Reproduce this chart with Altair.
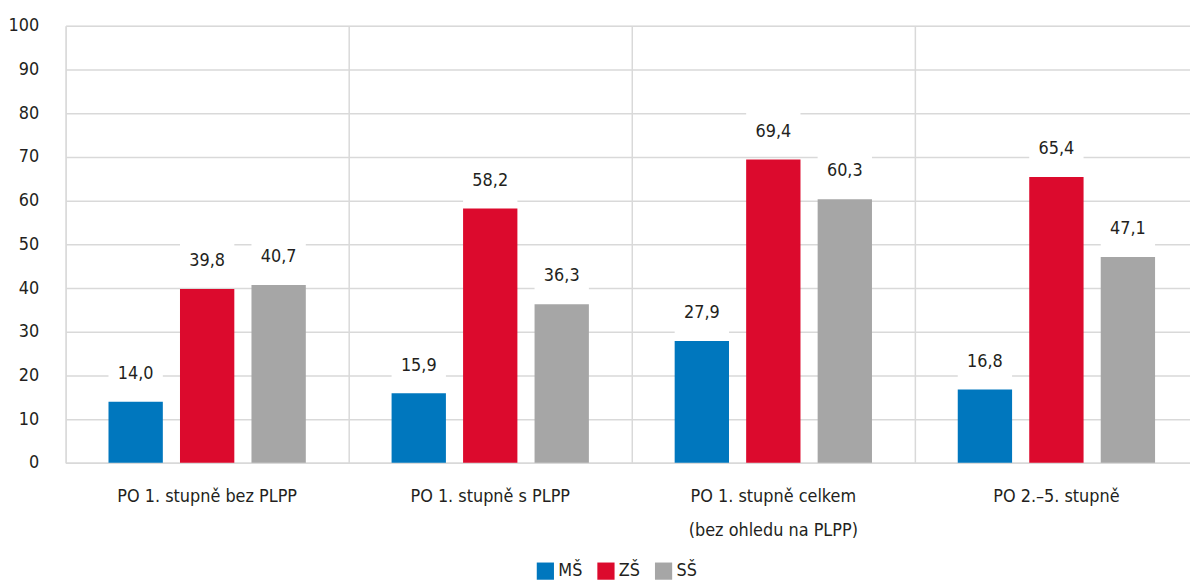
import altair as alt
import pandas as pd

categories = ["PO 1. stupně bez PLPP", "PO 1. stupně s PLPP",
              "PO 1. stupně celkem|(bez ohledu na PLPP)", "PO 2.–5. stupně"]
series = ["MŠ", "ZŠ", "SŠ"]
ms_values = [14.0, 15.9, 27.9, 16.8]
zs_values = [39.8, 58.2, 69.4, 65.4]
ss_values = [40.7, 36.3, 60.3, 47.1]
colors = ["#0077be", "#dc0a2d", "#a6a6a6"]
y_ticks = [0, 10, 20, 30, 40, 50, 60, 70, 80, 90, 100]

rows = []
for s, vals in zip(series, [ms_values, zs_values, ss_values]):
    for c, v in zip(categories, vals):
        rows.append({"kat": c, "typ": s, "hodnota": v,
                     "label": f"{v:.1f}".replace(".", ",")})
df = pd.DataFrame(rows)

FONT = "Liberation Sans Narrow, Arial Narrow, DejaVu Sans Condensed, sans-serif"
TXT = "#231f20"
FS = 18

x_enc = alt.X("kat:N", sort=categories, title=None,
              scale=alt.Scale(paddingInner=0, paddingOuter=0, range=[0, 1140]),
              axis=alt.Axis(labelExpr="split(datum.label, '|')", labelAngle=0,
                            labelFontSize=FS, labelFont=FONT, labelColor=TXT,
                            labelPadding=25, labelLineHeight=34, labelLimit=0,
                            ticks=False, grid=True, bandPosition=0,
                            gridColor="#d9d9d9", gridWidth=1.5,
                            domainColor="#d9d9d9", domainWidth=1.5))
xo_enc = alt.XOffset("typ:N", sort=series,
                     scale=alt.Scale(paddingInner=0.24, paddingOuter=0.6))
y_enc = alt.Y("hodnota:Q", title=None,
              scale=alt.Scale(domain=[0, 100], nice=False),
              axis=alt.Axis(values=y_ticks, ticks=False, domain=False,
                            labelFontSize=FS, labelFont=FONT, labelColor=TXT,
                            labelPadding=27, gridColor="#d9d9d9", gridWidth=1.5))
color_enc = alt.Color("typ:N", sort=series,
                      scale=alt.Scale(domain=series, range=colors),
                      legend=alt.Legend(title=None, orient="none", direction="horizontal",
                                        legendX=474, legendY=540,
                                        symbolType="square", symbolSize=300,
                                        symbolStrokeWidth=0, symbolOpacity=1,
                                        labelFontSize=FS, labelFont=FONT, labelColor=TXT,
                                        columnPadding=14, labelOffset=4))

base = alt.Chart(df)

bars = base.mark_bar().encode(x=x_enc, xOffset=xo_enc, y=y_enc, color=color_enc)

boxes = base.transform_calculate(
    top="datum.hodnota + 11", bot="datum.hodnota + 1.2"
).mark_rect(color="white").encode(
    x=alt.X("kat:N", sort=categories), xOffset=alt.XOffset("typ:N", sort=series),
    y="top:Q", y2="bot:Q")

labels = base.mark_text(dy=-28, baseline="middle", fontSize=FS, font=FONT,
                        color=TXT).encode(
    x=alt.X("kat:N", sort=categories), xOffset=alt.XOffset("typ:N", sort=series),
    y="hodnota:Q", text="label:N")

chart = alt.layer(bars, boxes, labels).properties(
    width=1132, height=440,
    autosize=alt.AutoSizeParams(type="none"),
    padding={"left": 58, "top": 16, "right": 0, "bottom": 117},
).configure_view(stroke=None).configure(background="white")

chart.save("out.html", embed_options={"renderer": "svg", "actions": False})
